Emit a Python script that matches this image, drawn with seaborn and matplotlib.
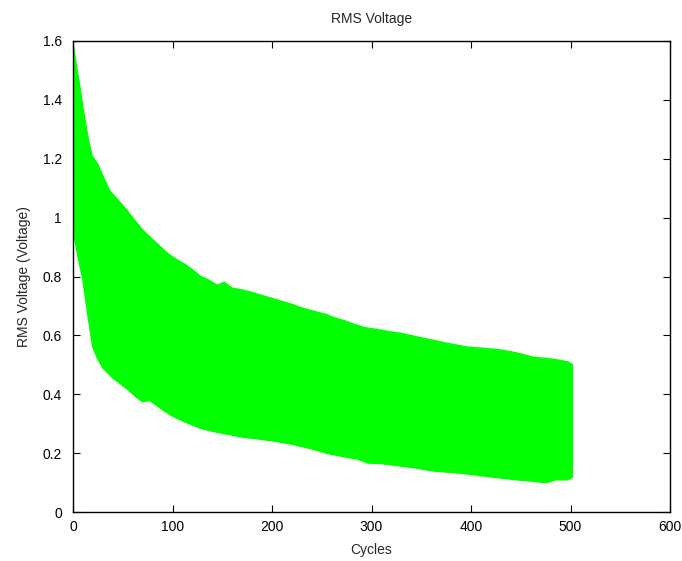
import matplotlib
matplotlib.use("Agg")
import matplotlib.pyplot as plt
import seaborn as sns
import pandas as pd
import numpy as np

# Upper envelope of RMS voltage (cycle, value)
upper_cycles = [0, 3, 6, 10, 15, 19, 25, 30, 37, 45, 54, 62, 70, 80, 88, 96, 105,
                113, 121, 128, 135, 145, 152, 160, 171, 180, 190, 205, 220, 228,
                238, 255, 262, 272, 289, 296, 305, 318, 329, 345, 362, 380, 396,
                415, 430, 446, 463, 480, 497, 502]
upper_vals = [1.59, 1.52, 1.46, 1.37, 1.27, 1.21, 1.18, 1.14, 1.09, 1.06, 1.025,
              0.99, 0.957, 0.925, 0.90, 0.875, 0.855, 0.84, 0.82, 0.80, 0.79,
              0.77, 0.78, 0.76, 0.753, 0.745, 0.735, 0.72, 0.705, 0.695, 0.685,
              0.67, 0.66, 0.65, 0.63, 0.624, 0.62, 0.612, 0.607, 0.595, 0.583,
              0.57, 0.56, 0.555, 0.55, 0.54, 0.525, 0.52, 0.51, 0.50]

# Lower envelope of RMS voltage (cycle, value)
lower_cycles = [0, 5, 10, 15, 20, 25, 30, 40, 54, 64, 70, 77, 85, 98, 110, 128,
                140, 155, 170, 188, 205, 221, 240, 255, 270, 286, 296, 310, 329,
                345, 362, 380, 396, 415, 430, 446, 463, 475, 485, 497, 502]
lower_vals = [0.96, 0.87, 0.79, 0.67, 0.56, 0.52, 0.49, 0.456, 0.42, 0.39, 0.375,
              0.38, 0.36, 0.33, 0.31, 0.285, 0.275, 0.265, 0.255, 0.248, 0.24,
              0.23, 0.215, 0.20, 0.19, 0.18, 0.167, 0.165, 0.157, 0.15, 0.14,
              0.135, 0.13, 0.122, 0.116, 0.11, 0.105, 0.10, 0.11, 0.11, 0.12]

x_ticks = [0, 100, 200, 300, 400, 500, 600]
y_ticks = [0, 0.2, 0.4, 0.6, 0.8, 1.0, 1.2, 1.4, 1.6]
y_tick_labels = ["0", "0.2", "0.4", "0.6", "0.8", "1", "1.2", "1.4", "1.6"]

sns.set_theme(style="white")
plt.rcParams["font.family"] = ["Liberation Sans", "DejaVu Sans"]

fig = plt.figure(figsize=(6.82, 5.61), dpi=100)
ax = fig.add_axes([73 / 682, 1 - 512 / 561, 597 / 682, 471 / 561])

green = "#00ff00"
grid = sorted(set(upper_cycles) | set(lower_cycles))
up = np.interp(grid, upper_cycles, upper_vals)
lo = np.interp(grid, lower_cycles, lower_vals)
ax.fill_between(grid, lo, up, color=green, linewidth=0)

df_u = pd.DataFrame({"Cycles": upper_cycles, "V": upper_vals})
df_l = pd.DataFrame({"Cycles": lower_cycles, "V": lower_vals})
sns.lineplot(data=df_u, x="Cycles", y="V", ax=ax, color=green, linewidth=1.2)
sns.lineplot(data=df_l, x="Cycles", y="V", ax=ax, color=green, linewidth=1.2)
ax.plot([upper_cycles[-1], upper_cycles[-1]], [lower_vals[-1], upper_vals[-1]],
        color=green, linewidth=1.5)

ax.set_xlim(0, 600)
ax.set_ylim(0, 1.6)
ax.set_xticks(x_ticks)
ax.set_xticklabels([str(t) for t in x_ticks])
ax.set_yticks(y_ticks)
ax.set_yticklabels(y_tick_labels)

for s in ax.spines.values():
    s.set_color("black")
    s.set_linewidth(1.0)
    s.set_visible(True)

ax.tick_params(axis="both", which="both", direction="in", length=5, width=0.8,
               top=True, right=True, bottom=True, left=True,
               labelsize=10, colors="black", pad=6)
ax.tick_params(axis="y", pad=8)

ax.set_title("RMS Voltage", fontsize=10, pad=13)
ax.set_xlabel("Cycles", fontsize=10, labelpad=6)
ax.set_ylabel("RMS Voltage (Voltage)", fontsize=10, labelpad=8)

fig.savefig("out.png", dpi=100, facecolor="white")
